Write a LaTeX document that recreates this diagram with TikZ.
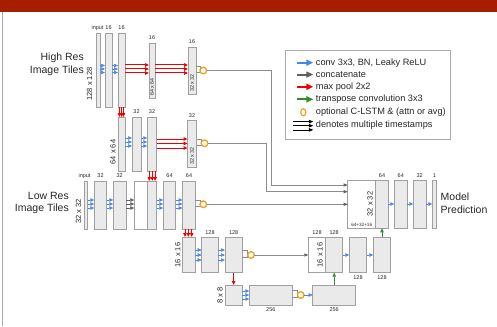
\documentclass[tikz,border=0pt]{standalone}
\usepackage{fontspec}
\setmainfont{Liberation Sans}
\usetikzlibrary{arrows.meta,fit}
\definecolor{band}{HTML}{A71D00}
\definecolor{boxfill}{HTML}{EAEAEA}
\definecolor{boxline}{HTML}{A0A0A0}
\definecolor{txt}{HTML}{262626}
\definecolor{cblue}{HTML}{4A86E8}
\definecolor{cred}{HTML}{F00000}
\definecolor{cgreen}{HTML}{2E8B2E}
\definecolor{cdark}{HTML}{5F5F5F}
\definecolor{cline}{HTML}{8C8C8C}
\definecolor{corange}{HTML}{F4A11C}
\definecolor{frame}{HTML}{ABABAB}
\newcommand\bx[6][box]{\node[#1,fit={(#3,#4)(#5,#6)}] (#2) {};}
\begin{document}
\begin{tikzpicture}[x=1pt,y=-1pt,
  box/.style={draw=boxline,fill=boxfill,line width=0.8pt,inner sep=0pt,outer sep=0pt},
  wbox/.style={box,fill=white},
  lbl/.style={font=\fontsize{5.5}{6.5}\selectfont,text=txt,inner sep=0pt},
  rlbl/.style={font=\fontsize{7.5}{8}\selectfont,text=txt,inner sep=0pt,rotate=90},
  rsm/.style={font=\fontsize{5.3}{6}\selectfont,text=txt,inner sep=0pt,rotate=90},
  big/.style={font=\fontsize{10.5}{12.8}\selectfont,text=txt,inner sep=0pt},
  legt/.style={font=\fontsize{9.2}{11}\selectfont,text=txt,inner sep=0pt,anchor=west},
  barr/.style={draw=cblue,line width=0.5pt,-{Triangle[length=4pt,width=3.5pt]}},
  rarr/.style={draw=cred,line width=1pt,-{Triangle[length=4pt,width=3.5pt]}},
  garr/.style={draw=cgreen,line width=0.8pt,-{Triangle[length=4pt,width=3.5pt]}},
  karr/.style={draw=cdark,line width=0.5pt,-{Triangle[length=4pt,width=3.5pt]}},
  gline/.style={draw=cline,line width=0.7pt},
  garrow/.style={gline,-{Triangle[length=4pt,width=3pt,color=cdark]}},
  lstm/.style={circle,draw=corange,line width=1.2pt,fill=white,minimum size=6.5pt,inner sep=0pt,outer sep=0pt},
  legbox/.style={draw=frame,line width=0.8pt,inner sep=0pt,outer sep=0pt}
]
\useasboundingbox (0,0) rectangle (497,326);
% header band and frame
\fill[band] (0,0) rectangle (497,12);
\draw[frame,line width=1pt] (2,12) -- (2,326);

% ---------- High res row ----------
\bx{hin}{96}{33}{100}{107}
\bx{h1}{105}{33}{112}{107}
\bx{h2}{118}{33}{125}{107}
\bx{h3}{149}{43}{155}{98}
\bx{h4}{188}{47}{196}{94}
\node[lbl] at (97.5,28) {input};
\node[lbl] at (108.5,28) {16};
\node[lbl] at (121.5,28) {16};
\node[lbl] at (152,38) {16};
\node[lbl] at (192,42) {16};
\node[rlbl] at (89.5,84) {128 x 128};
\node[rsm] at (152,87) {64 x 64};
\node[rsm] at (192,83) {32 x 32};
\node[big,align=right,anchor=east] at (84,64.5) {High Res\\Image Tiles};

% ---------- 64x64 row ----------
\bx{m1}{118}{117}{125}{171}
\bx{m2}{132}{117}{141}{171}
\bx{m3}{147.3}{117}{156.7}{171}
\bx{m4}{187.5}{120}{196.5}{167.7}
\node[lbl] at (136.5,112) {32};
\node[lbl] at (152,112) {32};
\node[lbl] at (192,115.5) {32};
\node[rlbl] at (113,152) {64 x 64};
\node[rsm] at (192,156) {32 x 32};

% ---------- Low res row ----------
\bx{lin}{84.3}{181}{87.7}{229}
\bx{l1}{94.3}{181}{106.7}{229}
\bx{l2}{113.3}{181}{126}{229}
\bx[wbox]{lc}{134.3}{181}{147.3}{229}
\bx{lg}{147.3}{181}{156.7}{229}
\bx{l4}{163.3}{181}{175.7}{229}
\bx{l5}{182.5}{181}{195.3}{229}
\node[lbl] at (84.5,176) {input};
\node[lbl] at (100.5,176) {32};
\node[lbl] at (119.7,176) {32};
\node[lbl] at (169.5,176) {64};
\node[lbl] at (189,176) {64};
\node[rlbl] at (78.5,211.5) {32 x 32};
\node[big,align=right,anchor=east] at (69,203) {Low Res\\Image Tiles};

% ---------- 16x16 row ----------
\bx{b1}{182.7}{237}{195.3}{272.7}
\bx{b2}{201.7}{237}{218.3}{272.7}
\bx{b3}{225}{237}{242.3}{272.7}
\node[lbl] at (210,233) {128};
\node[lbl] at (233.7,233) {128};
\node[rlbl] at (177.7,255) {16 x 16};

% ---------- 8x8 row ----------
\bx{d1}{225}{285}{242.3}{305.7}
\bx{d2}{249.3}{285}{292.3}{305.7}
\bx{d3}{312.7}{285}{355.7}{305.7}
\node[rlbl] at (220,295.3) {8 x 8};
\node[lbl] at (270.8,310) {256};
\node[lbl] at (334.2,310) {256};

% ---------- decoder 16x16 ----------
\bx[wbox]{u1}{308.3}{237}{325.7}{272.7}
\bx{u2}{325.7}{237}{342.7}{272.7}
\bx{u3}{349.3}{237}{366.7}{272.7}
\bx{u4}{373.3}{237}{390.7}{272.7}
\node[lbl] at (317,233) {128};
\node[lbl] at (334.2,233) {128};
\node[lbl] at (358,277.5) {128};
\node[lbl] at (382,277.5) {128};
\node[rlbl] at (320,255) {16 x 16};

% ---------- prediction ----------
\bx[wbox]{pw}{347.7}{180}{375.7}{228.3}
\bx{pg}{375.7}{180}{388.3}{228.3}
\bx{p2}{394.3}{180}{407.3}{228.3}
\bx{p3}{413.3}{180}{426}{228.3}
\bx{p4}{432.3}{180}{436.7}{228.3}
\node[lbl] at (382,175.7) {64};
\node[lbl] at (400.8,175.7) {64};
\node[lbl] at (419.7,175.7) {32};
\node[lbl] at (434.5,175.7) {1};
\node[rlbl] at (370,204) {32 x 32};
\node[font=\fontsize{4.6}{5}\selectfont,text=txt,inner sep=0pt] at (361.7,225) {64+32+16};
\node[big,align=left,anchor=west] at (440.5,203.3) {Model\\Prediction};

% ---------- C-LSTM circles ----------
\node[lstm] (c1) at (203.3,70.5) {};
\node[lstm] (c2) at (204.5,143.3) {};
\node[lstm] (c3) at (203.3,204.3) {};
\node[lstm] (c4) at (251,255) {};
\node[lstm] (c5) at (300.7,295) {};
\foreach \src/\c in {h4/c1,m4/c2,l5/c3,b3/c4,d2/c5}{
  \draw[gline] (\src.east |- \c.north) ++(0,-1.2) -| (\c.west) |- ([yshift=1.2pt]\src.east |- \c.south);
}
\foreach \c in {c1,c2,c3,c4,c5}{\node[lstm] at (\c) {};}

% ---------- blue conv arrows ----------
\foreach \a/\b/\ys in {hin/h1/{65.5,69,72.5},h1/h2/{65.5,69,72.5},
  m1/m2/{138,142,146},m2/m3/{138,142,146},
  lin/l1/{200,204,208},l1/l2/{200,204,208},lg/l4/{200,204,208},l4/l5/{200,204,208},
  b1/b2/{250,255,260},b2/b3/{250,255,260},d1/d2/{291,295,299}}{
  \foreach \yy in \ys {\draw[barr] (\a.east |- 0,\yy) -- (\b.west |- 0,\yy);}
}
\foreach \a/\b/\yy in {u2/u3/255,u3/u4/255,pg/p2/204,p2/p3/204,p3/p4/204}{
  \draw[barr] (\a.east |- 0,\yy) -- (\b.west |- 0,\yy);
}
\draw[barr] (c5.east) -- (d3.west |- c5);

% ---------- concatenate (dark) ----------
\foreach \yy in {200,204,208}{\draw[karr] (l2.east |- 0,\yy) -- (lc.west |- 0,\yy);}

% ---------- max pool (red) ----------
\foreach \yy in {65,69,73}{
  \draw[rarr] (h2.east |- 0,\yy) -- (h3.west |- 0,\yy);
  \draw[rarr] (h3.east |- 0,\yy) -- (h4.west |- 0,\yy);
}
\foreach \yy in {139,143.5,148}{\draw[rarr] (m3.east |- 0,\yy) -- (m4.west |- 0,\yy);}
\foreach \xx in {119.5,121.5,123.5}{\draw[rarr] (h2.south -| \xx,0) -- (m1.north -| \xx,0);}
\foreach \xx in {149.3,152.2,155.1}{\draw[rarr] (m3.south -| \xx,0) -- (lg.north -| \xx,0);}
\foreach \xx in {185,188.3,191.7}{\draw[rarr] (l5.south -| \xx,0) -- (b1.north -| \xx,0);}
\draw[rarr] (b3.south) -- (d1.north);

% ---------- transpose conv (green) ----------
\draw[garr] (d3.north) -- (u2.south);
\draw[garr] (u4.north) -- (pg.south);

% ---------- skip connections ----------
\coordinate (k1) at (271,0);
\coordinate (k2) at (266,0);
\coordinate (e1) at (0,185);
\coordinate (e2) at (0,191.7);
\draw[garrow] (c1.east) -- (c1.east -| k1) -- (k1 |- e1) -- (pw.west |- e1);
\draw[garrow] (c2.east) -- (c2.east -| k2) -- (k2 |- e2) -- (pw.west |- e2);
\draw[garrow] (c3.east) -- (pw.west |- c3);
\draw[garrow] (c4.east) -- (u1.west |- c4);

% ---------- legend ----------
\node[legbox,fit={(285.7,50.7)(450.7,139)}] (leg) {};
\coordinate (la) at (296.7,0);
\coordinate (lb) at (313.3,0);
\begin{scope}[line width=2pt]
\draw[cblue,-{Triangle[length=7pt,width=6pt]}] (la |- 0,62.7) -- (lb |- 0,62.7);
\draw[cdark,-{Triangle[length=7pt,width=6pt]}] (la |- 0,74.6) -- (lb |- 0,74.6);
\draw[cred,-{Triangle[length=7pt,width=6pt]}] (la |- 0,86.8) -- (lb |- 0,86.8);
\draw[cgreen,-{Triangle[length=7pt,width=6pt]}] (la |- 0,99.3) -- (lb |- 0,99.3);
\end{scope}
\draw[corange,line width=1.2pt] (303.3,112.3) ellipse [x radius=2.6pt,y radius=3.6pt];
\foreach \yy in {121.6,125.7,129.9}{\draw[black,line width=0.7pt,-{Triangle[length=4.5pt,width=3.5pt]}] (293.3,\yy) -- (lb |- 0,\yy);}
\node[legt] at (315.7,62.7) {conv 3x3, BN, Leaky ReLU};
\node[legt] at (315.7,74.6) {concatenate};
\node[legt] at (315.7,86.8) {max pool 2x2};
\node[legt] at (315.7,99.3) {transpose convolution 3x3};
\node[legt] at (315.7,112.3) {optional C-LSTM \& (attn or avg)};
\node[legt] at (315.7,125) {denotes multiple timestamps};
\end{tikzpicture}
\end{document}
